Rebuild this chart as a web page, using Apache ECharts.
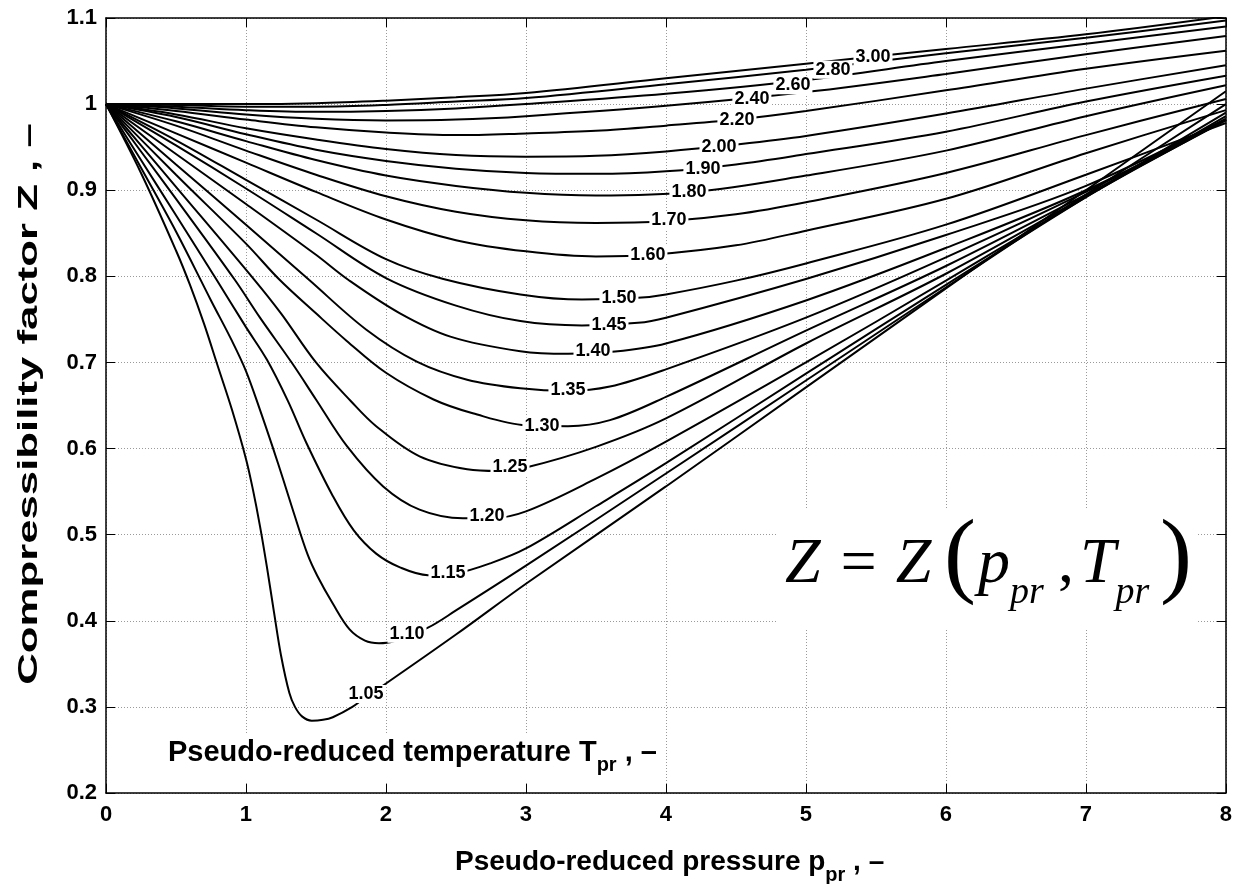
<!DOCTYPE html>
<html>
<head>
<meta charset="utf-8">
<script src="https://cdn.jsdelivr.net/npm/echarts@6/dist/echarts.min.js"></script>
<style>
  html, body { margin: 0; padding: 0; background: #fff; }
  #chart { width: 1235px; height: 884px; }
</style>
</head>
<body>
<div id="chart"></div>
<script>
// pseudo-reduced temperature of each curve
var tprNames = ['1.05', '1.10', '1.15', '1.20', '1.25', '1.30', '1.35', '1.40', '1.45', '1.50',
                '1.60', '1.70', '1.80', '1.90', '2.00', '2.20', '2.40', '2.60', '2.80', '3.00'];

// [p_pr, Z]
var tpr105 = [[0,1.0],[0.25,0.92],[0.5,0.83],[0.6,0.79],[0.7,0.745],[0.8,0.695],[0.9,0.645],[1.0,0.588],
  [1.05,0.552],[1.1,0.51],[1.15,0.462],[1.2,0.41],[1.25,0.36],[1.31,0.316],[1.35,0.300],[1.40,0.289],
  [1.47,0.284],[1.55,0.285],[1.62,0.288],[1.76,0.300],[1.86,0.312],[1.99,0.326],[2.5,0.384],[3,0.443],
  [4,0.556],[5,0.671],[6,0.786],[7,0.900],[8,1.015]];
var tpr110 = [[0,1],[0.25,0.926],[0.5,0.852],[0.75,0.772],[0.9,0.725],[1.0,0.69],[1.1,0.645],[1.19,0.602],
  [1.27,0.562],[1.34,0.526],[1.44,0.477],[1.51,0.452],[1.62,0.42],[1.74,0.39],[1.85,0.377],[1.95,0.374],
  [2.05,0.376],[2.3,0.392],[2.5,0.412],[3,0.464],[4,0.571],[5,0.679],[6,0.787],[7,0.895],[8,1.0]];
var tpr115 = [[0,1],[0.25,0.935],[0.5,0.871],[0.79,0.796],[1.0,0.741],[1.15,0.703],[1.3,0.655],[1.43,0.607],
  [1.62,0.545],[1.77,0.505],[1.93,0.478],[2.1,0.462],[2.3,0.453],[2.5,0.455],[2.75,0.467],[3,0.484],[3.5,0.533],
  [4,0.583],[5,0.687],[6,0.79],[7,0.892],[8,0.99]];
var tpr120 = [[0,1],[0.25,0.945],[0.5,0.89],[0.92,0.796],[1.1,0.752],[1.33,0.699],[1.5,0.657],[1.72,0.603],
  [1.98,0.556],[2.24,0.529],[2.55,0.519],[2.75,0.519],[3,0.527],[3.5,0.565],[4,0.608],[5,0.70],[6,0.795],
  [7,0.892],[8,0.986]];
var tpr125 = [[0,1],[0.25,0.952],[0.5,0.904],[1.06,0.796],[1.25,0.757],[1.5,0.70],[1.75,0.655],[1.93,0.626],
  [2.24,0.591],[2.58,0.576],[2.8,0.574],[3,0.578],[3.5,0.602],[4,0.635],[5,0.722],[6,0.803],[7,0.893],[8,0.982]];
var tpr130 = [[0,1],[0.5,0.918],[1.0,0.838],[1.24,0.796],[1.5,0.757],[1.72,0.725],[2.0,0.688],[2.34,0.657],
  [2.62,0.641],[3,0.627],[3.3,0.626],[3.6,0.633],[4,0.66],[5,0.737],[6,0.812],[7,0.895],[8,0.981]];
var tpr135 = [[0,1],[0.5,0.93],[1.0,0.86],[1.45,0.796],[1.86,0.738],[2.22,0.701],[2.58,0.680],[2.96,0.670],
  [3.3,0.667],[3.6,0.672],[4,0.692],[5,0.752],[6,0.822],[7,0.898],[8,0.982]];
var tpr140 = [[0,1],[0.5,0.942],[1.0,0.884],[1.5,0.825],[1.73,0.796],[2.1,0.757],[2.46,0.730],[2.96,0.713],
  [3.3,0.710],[3.6,0.712],[4,0.722],[5,0.772],[6,0.833],[7,0.900],[8,0.982]];
var tpr145 = [[0,1],[0.5,0.952],[1.0,0.902],[1.5,0.85],[2.0,0.798],[2.5,0.766],[2.96,0.748],[3.4,0.743],
  [3.8,0.746],[4,0.752],[5,0.797],[6,0.848],[7,0.905],[8,0.983]];
var tpr150 = [[0,1],[0.5,0.958],[1.0,0.912],[1.5,0.866],[2.0,0.82],[2.41,0.797],[2.96,0.779],[3.4,0.773],
  [3.8,0.775],[4,0.779],[4.5,0.795],[5,0.815],[6,0.86],[7,0.918],[8,0.978]];
var tpr160 = [[0,1],[0.5,0.966],[1.0,0.932],[1.5,0.898],[2.0,0.866],[2.5,0.842],[3,0.829],[3.5,0.823],
  [3.9,0.825],[4.5,0.836],[5,0.853],[6,0.89],[7,0.943],[8,0.993]];
var tpr170 = [[0,1],[0.5,0.975],[1.0,0.946],[1.5,0.918],[2.0,0.893],[2.5,0.875],[3,0.865],[3.5,0.862],
  [4,0.864],[4.5,0.872],[5,0.886],[6,0.92],[7,0.964],[8,1.006]];
var tpr180 = [[0,1],[0.5,0.98],[1.0,0.957],[1.5,0.935],[2.0,0.917],[2.5,0.905],[3,0.897],[3.5,0.894],
  [4.2,0.898],[5,0.917],[6,0.946],[7,0.986],[8,1.022]];
var tpr190 = [[0,1],[0.5,0.985],[1.0,0.965],[1.5,0.947],[2.0,0.934],[2.5,0.925],[3,0.920],[3.5,0.919],
  [4,0.922],[4.5,0.93],[5,0.942],[6,0.968],[7,1.003],[8,1.033]];
var tpr200 = [[0,1],[0.5,0.988],[1.0,0.972],[1.5,0.959],[2.0,0.948],[2.5,0.941],[3,0.939],[3.5,0.940],
  [4,0.945],[4.5,0.953],[5,0.963],[6,0.989],[7,1.018],[8,1.045]];
var tpr220 = [[0,1],[0.5,0.992],[1.0,0.982],[1.5,0.973],[2.0,0.967],[2.5,0.964],[3,0.966],[3.5,0.969],
  [4,0.975],[4.5,0.982],[5,0.992],[6,1.016],[7,1.041],[8,1.062]];
var tpr240 = [[0,1],[0.5,0.995],[1.0,0.988],[1.5,0.983],[2.0,0.981],[2.5,0.982],[3,0.986],[4,0.998],
  [5,1.014],[6,1.035],[7,1.058],[8,1.079]];
var tpr260 = [[0,1],[0.5,0.997],[1.0,0.993],[1.5,0.991],[2.0,0.992],[2.5,0.995],[3,1.0],[4,1.012],
  [5,1.028],[6,1.05],[7,1.07],[8,1.09]];
var tpr280 = [[0,1],[0.5,0.999],[1.0,0.997],[1.5,0.997],[2.0,0.999],[2.5,1.003],[3,1.007],[4,1.023],
  [5,1.04],[6,1.059],[7,1.077],[8,1.097]];
var tpr300 = [[0,1],[0.5,1.0],[1.0,1.0],[1.5,1.001],[2.0,1.004],[2.5,1.008],[3,1.013],[4,1.03],
  [5,1.047],[6,1.064],[7,1.081],[8,1.102]];

var curves = [tpr105, tpr110, tpr115, tpr120, tpr125, tpr130, tpr135, tpr140, tpr145, tpr150,
              tpr160, tpr170, tpr180, tpr190, tpr200, tpr220, tpr240, tpr260, tpr280, tpr300];

// where each curve label sits [p_pr, Z]
var labelPos = [[1.857,0.315],[2.15,0.385],[2.443,0.455],[2.721,0.522],[2.886,0.579],[3.114,0.626],
  [3.30,0.668],[3.479,0.713],[3.593,0.744],[3.664,0.775],[3.871,0.825],[4.021,0.865],[4.164,0.898],
  [4.264,0.925],[4.379,0.950],[4.507,0.981],[4.614,1.006],[4.907,1.022],[5.193,1.040],[5.479,1.055]];

var xTicks = [0, 8, 1];      // min, max, step
var yTicks = [0.2, 1.1, 0.1];

var SANS = '"Liberation Sans", Arial, sans-serif';
var SERIF = '"Liberation Serif", "Times New Roman", serif';

var chart = echarts.init(document.getElementById('chart'));

var measureCtx = document.createElement('canvas').getContext('2d');
function textWidth(str, font) {
  measureCtx.font = font;
  return measureCtx.measureText(str).width;
}

// lay out a run of text pieces on a baseline (for subscripts)
function textRun(x, baseline, parts) {
  var els = [];
  parts.forEach(function (pt) {
    var font = (pt.style || 'normal') + ' ' + (pt.weight || 'normal') + ' ' + pt.size + 'px ' + pt.family;
    var bx = pt.x != null ? pt.x : x;
    var by = (pt.base != null ? pt.base : baseline) + (pt.dy || 0);
    els.push({
      type: 'text', x: bx, y: by - 0.35 * pt.size, z: 10,
      style: { text: pt.t, font: font, fill: '#000', textAlign: 'left', textVerticalAlign: 'middle', verticalAlign: 'middle' }
    });
    x = bx + textWidth(pt.t, font);
  });
  return els;
}

function axisCommon(extra) {
  var base = {
    type: 'value',
    axisLine: { show: true, onZero: false, lineStyle: { color: '#000', width: 1.5 } },
    axisTick: { show: true, inside: true, length: 9, lineStyle: { color: '#000', width: 1 } },
    splitLine: { show: false },
    axisLabel: { show: false }
  };
  return Object.assign(base, extra);
}

var gridLine = { show: true, lineStyle: { color: '#9a9a9a', type: [1, 2], width: 1 } };
var tickFont = { fontSize: 22, fontWeight: 'bold', color: '#000', fontFamily: SANS };

var series = curves.map(function (d, i) {
  return {
    type: 'line', name: tprNames[i], data: d,
    showSymbol: false, symbol: 'none',
    smooth: 0.35,
    lineStyle: { color: '#000', width: 2 },
    clip: true, silent: true, z: 2
  };
});
series.push({
  type: 'scatter',
  data: labelPos.map(function (p, i) { return { value: p, name: tprNames[i] }; }),
  symbol: 'circle', symbolSize: 2,
  itemStyle: { color: 'rgba(255,255,255,0)' },
  label: {
    show: true, position: 'inside', formatter: '{b}',
    color: '#000', fontSize: 18, fontWeight: 'bold', fontFamily: SANS,
    backgroundColor: '#fff', padding: [0, 2, 0, 2], opacity: 1
  },
  labelLayout: { hideOverlap: false },
  silent: true, z: 5
});

var graphics = [
  // white patches behind the annotations
  { type: 'rect', shape: { x: 778, y: 510, width: 419, height: 120 }, style: { fill: '#fff' }, z: 1 },
  { type: 'rect', shape: { x: 160, y: 733, width: 505, height: 48 }, style: { fill: '#fff' }, z: 1 },
  {
    type: 'text', x: 30, y: 404, rotation: Math.PI / 2, scaleX: 1.62, z: 10,
    style: { text: 'Compressibility factor Z , \u2013', font: 'bold 27px ' + SANS, fill: '#000',
             textAlign: 'center', textVerticalAlign: 'middle', verticalAlign: 'middle', align: 'center' }
  }
];

graphics = graphics.concat(textRun(455, 872, [
  { t: 'Pseudo-reduced pressure p', size: 28, weight: 'bold', family: SANS },
  { t: 'pr', size: 20, weight: 'bold', family: SANS, dy: 10 },
  { t: ' , \u2013', size: 28, weight: 'bold', family: SANS }
]));
graphics = graphics.concat(textRun(168, 763, [
  { t: 'Pseudo-reduced temperature T', size: 29, weight: 'bold', family: SANS },
  { t: 'pr', size: 20, weight: 'bold', family: SANS, dy: 9 },
  { t: ' , \u2013', size: 29, weight: 'bold', family: SANS }
]));
graphics = graphics.concat(textRun(785, 588, [
  { t: 'Z = Z', size: 64, style: 'italic', family: SERIF },
  { t: '(', size: 96, family: SERIF, x: 944, base: 593 },
  { t: 'p', size: 64, style: 'italic', family: SERIF, x: 978, base: 588 },
  { t: 'pr', size: 38, style: 'italic', family: SERIF, base: 606 },
  { t: ',', size: 64, family: SERIF, x: 1058, base: 588 },
  { t: 'T', size: 64, style: 'italic', family: SERIF, x: 1080, base: 588 },
  { t: 'pr', size: 38, style: 'italic', family: SERIF, base: 606 },
  { t: ')', size: 96, family: SERIF, x: 1160, base: 593 }
]));

var option = {
  animation: false,
  backgroundColor: '#fff',
  grid: { left: 106, right: 8, top: 18, bottom: 91, containLabel: false },
  xAxis: [
    axisCommon({
      min: xTicks[0], max: xTicks[1], interval: xTicks[2], position: 'bottom',
      splitLine: gridLine,
      axisLabel: Object.assign({ show: true, margin: 11 }, tickFont)
    }),
    axisCommon({ min: xTicks[0], max: xTicks[1], interval: xTicks[2], position: 'top' })
  ],
  yAxis: [
    axisCommon({
      min: yTicks[0], max: yTicks[1], interval: yTicks[2], position: 'left',
      splitLine: gridLine,
      axisLabel: Object.assign({
        show: true, margin: 9,
        formatter: function (v) { return String(Math.round(v * 10) / 10); }
      }, tickFont)
    }),
    axisCommon({ min: yTicks[0], max: yTicks[1], interval: yTicks[2], position: 'right' })
  ],
  series: series,
  graphic: { elements: graphics }
};

chart.setOption(option);
</script>
</body>
</html>
